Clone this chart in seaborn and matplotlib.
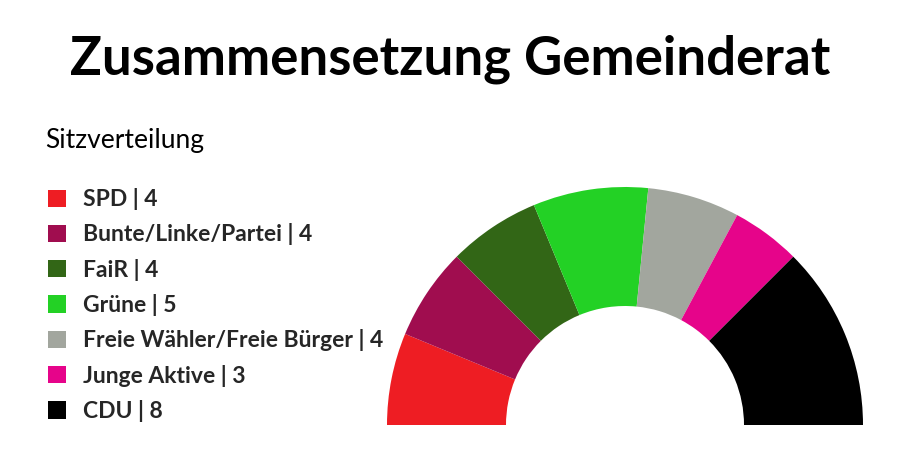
import seaborn as sns
import matplotlib.pyplot as plt

parteien = ['SPD', 'Bunte/Linke/Partei', 'FaiR', 'Grüne',
            'Freie Wähler/Freie Bürger', 'Junge Aktive', 'CDU']
sitze = [4, 4, 4, 5, 4, 3, 8]
farben = ['#ee1d23', '#a00d4f', '#326616', '#23d125',
          '#a2a69e', '#e6048a', '#000000']
titel = 'Zusammensetzung Gemeinderat'
untertitel = 'Sitzverteilung'

sns.set_theme(style='white')
plt.rcParams['font.family'] = ['Lato', 'DejaVu Sans']

fig = plt.figure(figsize=(9, 4.7), dpi=100)
fig.patch.set_facecolor('white')

# Halbkreis: Mittelpunkt bei (625, 45) px, Radius 238 px
r_px = 238
cx, cy = 625, 45
ax = fig.add_axes([(cx - r_px) / 900, (cy - r_px) / 470,
                   2 * r_px / 900, 2 * r_px / 470])
werte = sitze + [sum(sitze)]
cols = farben + ['none']
wedges, _ = ax.pie(werte, colors=cols, startangle=180, counterclock=False,
                   radius=1, wedgeprops=dict(width=0.5, linewidth=0))
ax.set_xlim(-1, 1)
ax.set_ylim(-1, 1)
ax.set_aspect('equal')
ax.axis('off')

fig.text(0.5, 1 - 75 / 470, titel, ha='center', va='baseline',
         fontsize=38, fontweight='bold', color='black')
fig.text(45 / 900, 1 - 148 / 470, untertitel, ha='left', va='baseline',
         fontsize=19, color='black')

labels = [f'{p} | {n}' for p, n in zip(parteien, sitze)]
fig.legend(wedges[:len(parteien)], labels, loc='upper left',
           bbox_to_anchor=(39 / 900, 1 - 179 / 470), frameon=False,
           prop=dict(size=16.5, weight='bold'), handlelength=0.78,
           handleheight=0.78, handletextpad=0.75, labelspacing=0.58,
           borderaxespad=0)

fig.savefig('out.png', dpi=100, facecolor='white')
